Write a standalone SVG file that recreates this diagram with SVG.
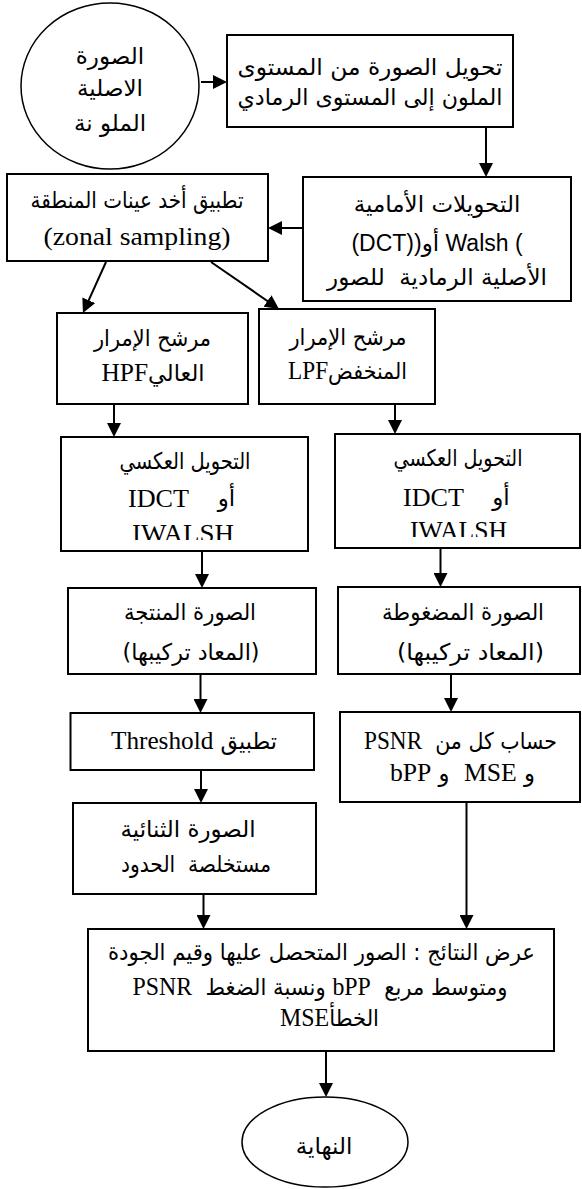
<svg xmlns="http://www.w3.org/2000/svg" width="582" height="1189" viewBox="0 0 582 1189">
<style>
.box{fill:#fff;stroke:#000;stroke-width:2}
.ar{font-family:'DejaVu Sans',sans-serif;font-size:23px;fill:#000;text-anchor:middle;direction:ltr}
.lt{font-family:'Liberation Serif','DejaVu Sans',serif;font-size:26px}
.ls{font-family:'Liberation Sans','DejaVu Sans',sans-serif;font-size:23px}
#connectors line{stroke:#000;stroke-width:2;fill:none}
</style>
<defs>
<marker id="ah" viewBox="0 0 14 14" refX="10" refY="7" markerWidth="14" markerHeight="14" markerUnits="userSpaceOnUse" orient="auto"><path d="M0,0 L14,7 L0,14 z" fill="#000"/></marker>
<clipPath id="clipL"><rect x="60" y="430" width="250" height="110"/></clipPath>
<clipPath id="clipR"><rect x="334" y="430" width="248" height="107"/></clipPath>
</defs>
<rect x="0" y="0" width="582" height="1189" fill="#fff"/>

<g id="connectors">
<line x1="201" y1="82" x2="223" y2="82" marker-end="url(#ah)"/>
<line x1="486" y1="127" x2="486" y2="173" marker-end="url(#ah)"/>
<line x1="303" y1="228" x2="272" y2="228" marker-end="url(#ah)"/>
<line x1="106" y1="262" x2="84.6" y2="309.4" marker-end="url(#ah)"/>
<line x1="211" y1="262" x2="275.7" y2="306.7" marker-end="url(#ah)"/>
<line x1="114" y1="404" x2="114" y2="433" marker-end="url(#ah)"/>
<line x1="395" y1="404" x2="395" y2="430" marker-end="url(#ah)"/>
<line x1="202" y1="551" x2="202" y2="584" marker-end="url(#ah)"/>
<line x1="440.5" y1="548" x2="440.5" y2="583" marker-end="url(#ah)"/>
<line x1="200.5" y1="674" x2="200.5" y2="709" marker-end="url(#ah)"/>
<line x1="451" y1="674" x2="451" y2="708" marker-end="url(#ah)"/>
<line x1="201" y1="770" x2="201" y2="799" marker-end="url(#ah)"/>
<line x1="203.5" y1="894" x2="203.5" y2="925" marker-end="url(#ah)"/>
<line x1="466.5" y1="802" x2="466.5" y2="925" marker-end="url(#ah)"/>
<line x1="326" y1="1051" x2="326" y2="1093" marker-end="url(#ah)"/>
</g>

<g id="n-start">
<ellipse cx="110" cy="86" rx="89" ry="83" fill="#fff" stroke="#000" stroke-width="1.5"/>
<text class="ar" x="110" y="64" font-size="22">الصورة</text>
<text class="ar" x="110" y="96" font-size="22">الاصلية</text>
<text class="ar" x="110" y="131" font-size="22">الملو نة</text>
</g>

<g id="n-gray">
<rect class="box" x="227" y="35" width="286" height="92"/>
<text class="ar" x="370" y="75" textLength="265" lengthAdjust="spacingAndGlyphs">تحويل الصورة من المستوى</text>
<text class="ar" x="370" y="105" textLength="265" lengthAdjust="spacingAndGlyphs">الملون إلى المستوى الرمادي</text>
</g>

<g id="n-forward">
<rect class="box" x="303" y="177" width="268" height="124"/>
<text class="ar" x="437" y="212">التحويلات الأمامية</text>
<text class="ar" x="437" y="251"><tspan class="ls">(DCT))</tspan>أو<tspan class="ls"> Walsh (</tspan></text>
<text class="ar" x="437" y="285" xml:space="preserve">الأصلية الرمادية  للصور</text>
</g>

<g id="n-zonal">
<rect class="box" x="7" y="174" width="261" height="87"/>
<text class="ar" x="137" y="208" textLength="213" lengthAdjust="spacingAndGlyphs">تطبيق أخد عينات المنطقة</text>
<text class="ar lt" x="137" y="245" font-size="26" textLength="187" lengthAdjust="spacingAndGlyphs">(zonal sampling)</text>
</g>

<g id="n-hpf">
<rect class="box" x="57" y="313" width="191" height="91"/>
<text class="ar" x="152.5" y="346" textLength="117" lengthAdjust="spacingAndGlyphs">مرشح الإمرار</text>
<text class="ar" x="153" y="381" textLength="103" lengthAdjust="spacingAndGlyphs"><tspan class="lt">HPF</tspan>العالي</text>
</g>

<g id="n-lpf">
<rect class="box" x="259" y="309" width="176" height="95"/>
<text class="ar" x="348" y="345" textLength="117" lengthAdjust="spacingAndGlyphs">مرشح الإمرار</text>
<text class="ar" x="347.5" y="379" textLength="119" lengthAdjust="spacingAndGlyphs"><tspan class="lt">LPF</tspan>المنخفض</text>
</g>

<g id="n-idct-high">
<rect class="box" x="61" y="437" width="247" height="114"/>
<text class="ar" x="185" y="469" textLength="131" lengthAdjust="spacingAndGlyphs">التحويل العكسي</text>
<text class="ar lt" x="158.5" y="507" textLength="61" lengthAdjust="spacingAndGlyphs">IDCT</text>
<text class="ar" x="226.5" y="506">أو</text>
<text class="ar lt" x="183" y="542" textLength="102" lengthAdjust="spacingAndGlyphs" clip-path="url(#clipL)">IWALSH</text>
</g>

<g id="n-idct-low">
<rect class="box" x="335" y="434" width="245" height="114"/>
<text class="ar" x="458" y="466" textLength="129" lengthAdjust="spacingAndGlyphs">التحويل العكسي</text>
<text class="ar lt" x="433.5" y="506" textLength="61" lengthAdjust="spacingAndGlyphs">IDCT</text>
<text class="ar" x="501" y="505">أو</text>
<text class="ar lt" x="458.5" y="539" textLength="97" lengthAdjust="spacingAndGlyphs" clip-path="url(#clipR)">IWALSH</text>
</g>

<g id="n-recon">
<rect class="box" x="68" y="588" width="248" height="86"/>
<text class="ar" x="190" y="620" textLength="132" lengthAdjust="spacingAndGlyphs">الصورة المنتجة</text>
<text class="ar" x="191" y="660" textLength="137" lengthAdjust="spacingAndGlyphs">(المعاد تركيبها)</text>
</g>

<g id="n-compressed">
<rect class="box" x="338" y="587" width="242" height="87"/>
<text class="ar" x="463" y="620" textLength="162" lengthAdjust="spacingAndGlyphs">الصورة المضغوطة</text>
<text class="ar" x="470.5" y="660" textLength="147" lengthAdjust="spacingAndGlyphs">(المعاد تركيبها)</text>
</g>

<g id="n-threshold">
<rect class="box" x="70.5" y="713" width="243.5" height="57"/>
<text class="ar" x="194" y="749" textLength="166" lengthAdjust="spacingAndGlyphs"><tspan class="lt">Threshold</tspan> تطبيق</text>
</g>

<g id="n-metrics">
<rect class="box" x="340" y="712" width="240" height="90"/>
<text class="ar" x="460.5" y="749" textLength="193" lengthAdjust="spacingAndGlyphs" xml:space="preserve"><tspan class="lt">PSNR</tspan>  حساب كل من</text>
<text class="ar" x="462.5" y="781" textLength="145" lengthAdjust="spacingAndGlyphs" xml:space="preserve"><tspan class="lt">bPP</tspan> و  <tspan class="lt">MSE</tspan> و</text>
</g>

<g id="n-binary">
<rect class="box" x="73" y="803" width="243" height="91"/>
<text class="ar" x="188" y="837" textLength="135" lengthAdjust="spacingAndGlyphs">الصورة الثنائية</text>
<text class="ar" x="196" y="872" textLength="150" lengthAdjust="spacingAndGlyphs" xml:space="preserve">مستخلصة  الحدود</text>
</g>

<g id="n-results">
<rect class="box" x="88" y="929" width="466" height="122"/>
<text class="ar" x="321.5" y="960" textLength="427" lengthAdjust="spacingAndGlyphs">عرض النتائج : الصور المتحصل عليها وقيم الجودة</text>
<text class="ar" x="320" y="995" textLength="375" lengthAdjust="spacingAndGlyphs" xml:space="preserve"><tspan class="lt">PSNR</tspan>  ونسبة الضغط <tspan class="lt">bPP</tspan>  ومتوسط مربع</text>
<text class="ar" x="329.5" y="1026" textLength="99" lengthAdjust="spacingAndGlyphs"><tspan class="lt">MSE</tspan>الخطأ</text>
</g>

<g id="n-end">
<ellipse cx="325" cy="1142" rx="83" ry="45" fill="#fff" stroke="#000" stroke-width="1.5"/>
<text class="ar" x="324" y="1154" font-size="34">النهاية</text>
</g>
</svg>
